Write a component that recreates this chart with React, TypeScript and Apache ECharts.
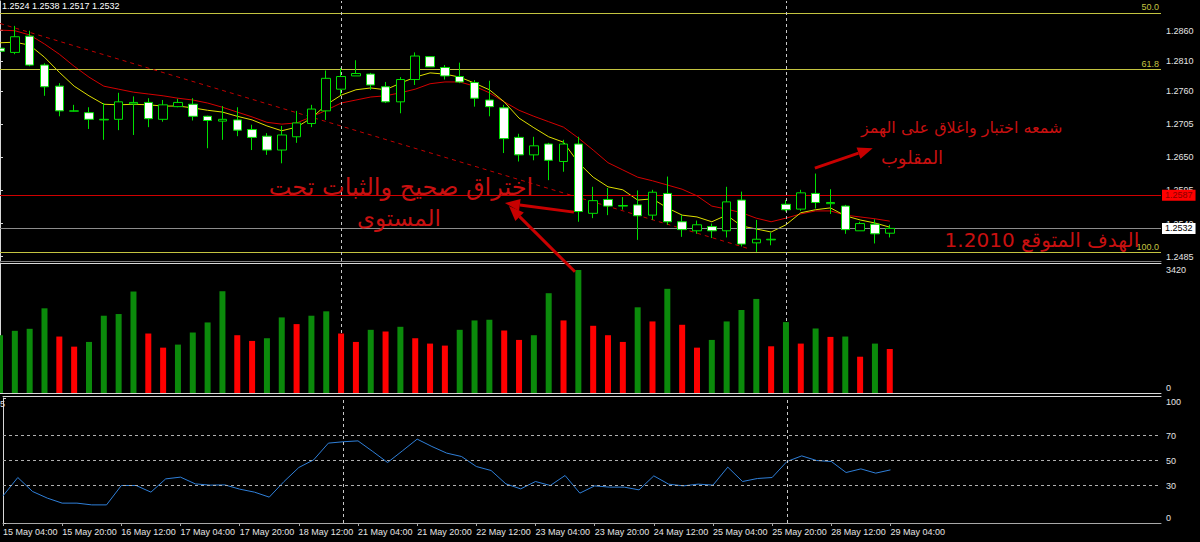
import React, { useEffect, useRef } from 'react';
import * as echarts from 'echarts';

// ---- Data ----
const timeLabels = [
  '15 May 04:00', '15 May 20:00', '16 May 12:00', '17 May 04:00', '17 May 20:00', '18 May 12:00',
  '21 May 04:00', '21 May 20:00', '22 May 12:00', '23 May 04:00', '23 May 20:00', '24 May 12:00',
  '25 May 04:00', '25 May 20:00', '28 May 12:00', '29 May 04:00',
];

const opens = [
  1.2831, 1.2824, 1.2851, 1.2803, 1.2768, 1.27265, 1.2724, 1.2712, 1.2713, 1.27385,
  1.2741, 1.2713, 1.2734, 1.2738, 1.2718, 1.2710, 1.2712, 1.2696, 1.2685, 1.2662,
  1.2684, 1.2706, 1.2727, 1.2763, 1.2785, 1.2788, 1.2767, 1.2742, 1.2779, 1.2817,
  1.2799, 1.2784, 1.2774, 1.2745, 1.2732, 1.2683, 1.2654, 1.2672, 1.2643, 1.2672,
  1.2557, 1.2580, 1.2569, 1.2571, 1.2554, 1.2590, 1.2543, 1.2528, 1.2535, 1.2528,
  1.2579, 1.2508, 1.2513, 1.2572, 1.2564, 1.2590, 1.2573, 1.2569, 1.2528, 1.2539,
  1.2524,
];
const highs = [
  1.2838, 1.2868, 1.2860, 1.2806, 1.2773, 1.2737, 1.2733, 1.2740, 1.2757, 1.2751,
  1.2748, 1.2745, 1.2747, 1.2748, 1.2719, 1.2735, 1.2733, 1.2704, 1.2690, 1.2702,
  1.2727, 1.2737, 1.2794, 1.2798, 1.2811, 1.2790, 1.2775, 1.2783, 1.2824, 1.2818,
  1.2803, 1.2807, 1.2778, 1.2777, 1.2737, 1.2689, 1.2684, 1.2674, 1.2679, 1.2684,
  1.2601, 1.2599, 1.2584, 1.2595, 1.2596, 1.2618, 1.2554, 1.2545, 1.2540, 1.2601,
  1.2593, 1.2546, 1.2525, 1.2579, 1.2596, 1.2623, 1.2597, 1.2571, 1.2543, 1.2547,
  1.2538,
];
const lows = [
  1.2818, 1.2821, 1.2801, 1.2752, 1.2718, 1.2726, 1.2697, 1.2679, 1.2695, 1.2687,
  1.2700, 1.2709, 1.2733, 1.2711, 1.2665, 1.2679, 1.2685, 1.2662, 1.2654, 1.2640,
  1.2674, 1.2700, 1.2712, 1.2753, 1.2785, 1.2762, 1.2740, 1.2723, 1.2770, 1.2800,
  1.2779, 1.2773, 1.2734, 1.2718, 1.2657, 1.2643, 1.2645, 1.2612, 1.2626, 1.2543,
  1.2549, 1.2554, 1.2563, 1.2513, 1.2546, 1.2538, 1.2518, 1.2523, 1.2516, 1.2517,
  1.2502, 1.2493, 1.2504, 1.2560, 1.2561, 1.2565, 1.2556, 1.2523, 1.2528, 1.2507,
  1.2517,
];
const closes = [
  1.2826, 1.2850, 1.2803, 1.2767, 1.2727, 1.2727, 1.2713, 1.2713, 1.2742, 1.2741,
  1.2714, 1.2737, 1.2741, 1.2718, 1.2711, 1.2713, 1.2695, 1.2683, 1.2662, 1.2687,
  1.2707, 1.2730, 1.2781, 1.2784, 1.2789, 1.2770, 1.2742, 1.2779, 1.2818, 1.2800,
  1.2785, 1.2775, 1.2748, 1.2734, 1.2681, 1.2654, 1.2669, 1.2645, 1.2672, 1.2560,
  1.2578, 1.2569, 1.2570, 1.2553, 1.2592, 1.2543, 1.2530, 1.2538, 1.2528, 1.2576,
  1.2506, 1.2514, 1.2514, 1.2563, 1.2591, 1.2575, 1.2575, 1.2530, 1.2540, 1.2523,
  1.2532,
];

const maFast = [
  1.2840, 1.2841, 1.2836, 1.2816, 1.2791, 1.2768, 1.2752, 1.2738, 1.2737, 1.2738,
  1.2737, 1.2735, 1.2735, 1.2732, 1.2728, 1.2725, 1.2718, 1.2712, 1.2702, 1.2694,
  1.2700, 1.2715, 1.2737, 1.2753, 1.2762, 1.2765, 1.2762, 1.2773, 1.2783, 1.2790,
  1.2788, 1.2783, 1.2773, 1.2762, 1.2742, 1.2715, 1.2699, 1.2684, 1.2675, 1.2641,
  1.2617, 1.2601, 1.2596, 1.2579, 1.2581, 1.2566, 1.2554, 1.2551, 1.2543, 1.2554,
  1.2536, 1.2531, 1.2526, 1.2538, 1.2558, 1.2563, 1.2566, 1.2553, 1.2546, 1.2541,
  1.2534,
];
const maSlow = [
  1.2861, 1.2860, 1.2853, 1.2838, 1.2821, 1.2801, 1.2783, 1.2768, 1.2763, 1.2758,
  1.2755, 1.2752, 1.2748, 1.2745, 1.2740, 1.2733, 1.2725, 1.2717, 1.2708, 1.2705,
  1.2707, 1.2717, 1.2728, 1.2740, 1.2745, 1.2750, 1.2752, 1.2757, 1.2763, 1.2772,
  1.2775, 1.2775, 1.2768, 1.2757, 1.2742, 1.2728, 1.2718, 1.2709, 1.2700, 1.2682,
  1.2662, 1.2641, 1.2629, 1.2617, 1.2611, 1.2604, 1.2597, 1.2586, 1.2569, 1.2564,
  1.2558, 1.2549, 1.2543, 1.2549, 1.2556, 1.2561, 1.2561, 1.2554, 1.2551, 1.2548,
  1.2544,
];

const volumes = [
  1607, 1729, 1785, 2355, 1570, 1289, 1420, 2149, 2196, 2822,
  1654, 1261, 1346, 1682, 1962, 2830, 1607, 1448, 1523, 2102,
  1916, 2149, 2271, 1654, 1420, 1757, 1710, 1841, 1523, 1374,
  1318, 1757, 2018, 2037, 1738, 1476, 1607, 2775, 2018, 3420,
  1869, 1607, 1420, 2383, 1990, 2897, 1897, 1261, 1476, 1990,
  2308, 2616, 1299, 1972, 1374, 1794, 1560, 1570, 1009, 1374,
  1224,
];

const rsiValues = [
  21.7, 36.4, 25.2, 19.9, 15.9, 15.9, 14.5, 14.5, 30.0, 30.0,
  24.7, 35.3, 36.7, 31.3, 30.3, 30.5, 27.1, 24.7, 20.7, 33.2,
  44.4, 50.5, 63.9, 65.0, 65.7, 57.2, 48.4, 57.7, 67.1, 61.2,
  55.9, 53.2, 45.2, 42.0, 31.3, 27.3, 33.2, 30.0, 38.0, 23.9,
  29.7, 28.7, 28.7, 26.5, 37.7, 31.1, 29.7, 31.1, 30.3, 44.7,
  33.2, 35.6, 36.4, 49.2, 53.7, 50.0, 49.2, 40.4, 43.3, 39.9,
  42.5,
];

const priceTicks = [1.286, 1.281, 1.276, 1.2705, 1.265, 1.2595, 1.254, 1.2485];
const volumeTicks = [0, 3420];
const rsiTicks = [0, 30, 50, 70, 100];
const rsiLevels = [30, 50, 70];
const fibLevels = [
  { name: '50.0', price: 1.28894 },
  { name: '61.8', price: 1.27953 },
  { name: '100.0', price: 1.24928 },
];
const resistancePrice = 1.2587;
const bidPrice = 1.2532;
const weekSeparators = [23, 53];
const trendLine = [
  [0, 1.2872],
  [50.4, 1.2499],
];

const arrows = [
  { from: [54.95, 1.2632], to: [58.85, 1.2665] },
  { from: [38.7, 1.2559], to: [34.05, 1.2574] },
  { from: [38.77, 1.246], to: [34.32, 1.2569] },
];
const notes = [
  { text: 'شمعه اختبار واغلاق على الهمز', at: [64.85, 1.2700] },
  { text: 'المقلوب', at: [61.5, 1.2650] },
  { text: 'اختراق صحيح والثبات تحت', at: [27.04, 1.2601] },
  { text: 'المستوى', at: [26.9, 1.2550] },
  { text: '1.2010 الهدف المتوقع', at: [70.26, 1.2513] },
];

// ---- Styling ----
const X_MAX = 78.29;
const GREEN_WICK = '#00e000';
const AXIS_TEXT = '#e4e4e4';
const FONT = 'Liberation Sans';
const NOTE_RED = '#c81010';
const FIB_COLOR = '#c4c440';
const noteFontSizes = [16, 18, 24, 23, 20];

export default function App() {
  const ref = useRef<HTMLDivElement>(null);

  useEffect(() => {
    document.body.style.margin = '0';
    document.body.style.background = '#000';
    const chart = echarts.init(ref.current!, undefined, { renderer: 'svg' });

    const candleData = opens.map((o, i) => [i, o, closes[i], lows[i], highs[i]]);
    const volData = volumes.map((v, i) => ({
      value: [i, v],
      itemStyle: { color: i === 0 || v > volumes[i - 1] ? '#0b8a0b' : '#ff0000' },
    }));

    const sepLines = weekSeparators.map((x) => ({ xAxis: x }));
    const sepStyle = { color: '#c8c8c8', type: [3, 3], width: 1 };

    const commonX = {
      type: 'value',
      min: 0,
      max: X_MAX,
      splitLine: { show: false },
      axisTick: { show: false },
      axisLabel: { show: false },
    };

    const last = opens.length - 1;
    const header = [opens[last], highs[last], lows[last], closes[last]].map((v) => v.toFixed(4)).join(' ');

    const option: any = {
      animation: false,
      backgroundColor: '#000',
      grid: [
        { left: 0, right: 39, top: 1, height: 260 },
        { left: 0, right: 39, top: 263, height: 130 },
        { left: 0, right: 39, top: 398, height: 125 },
      ],
      xAxis: [
        { ...commonX, gridIndex: 0, axisLine: { show: true, lineStyle: { color: '#808080' } } },
        { ...commonX, gridIndex: 1, axisLine: { show: true, lineStyle: { color: '#d8d8d8' } } },
        {
          ...commonX,
          gridIndex: 2,
          axisLine: { show: true, lineStyle: { color: '#a8a8a8' } },
          axisTick: { show: true, length: 3, customValues: timeLabels.map((_, i) => i * 4), lineStyle: { color: '#a8a8a8' } },
          axisLabel: {
            show: true,
            customValues: timeLabels.map((_, i) => i * 4),
            formatter: (v: number) => timeLabels[Math.round(v / 4)] ?? '',
            align: 'left',
            color: AXIS_TEXT,
            fontSize: 9,
            fontFamily: FONT,
            margin: 4,
          },
        },
        { ...commonX, gridIndex: 1, position: 'top', axisLine: { show: true, lineStyle: { color: '#d8d8d8' } } },
        { ...commonX, gridIndex: 2, position: 'top', offset: 2, axisLine: { show: true, lineStyle: { color: '#d8d8d8' } } },
      ],
      yAxis: [
        {
          type: 'value', gridIndex: 0, position: 'right', min: 1.24779, max: 1.29093,
          splitLine: { show: false },
          axisLine: { show: true, lineStyle: { color: '#d8d8d8' } },
          axisTick: { show: true, length: 3, customValues: priceTicks, lineStyle: { color: '#d8d8d8' } },
          axisLabel: { customValues: priceTicks, formatter: (v: number) => v.toFixed(4), color: AXIS_TEXT, fontSize: 9, fontFamily: FONT, margin: 5 },
        },
        {
          type: 'value', gridIndex: 1, position: 'right', min: 0, max: 3615,
          splitLine: { show: false },
          axisLine: { show: true, lineStyle: { color: '#d8d8d8' } },
          axisTick: { show: false },
          axisLabel: {
            customValues: volumeTicks,
            formatter: (v: number) => (v === 0 ? '{b|0}' : String(v)),
            rich: { b: { padding: [0, 0, 10, 0], color: AXIS_TEXT, fontSize: 9, fontFamily: FONT } },
            color: AXIS_TEXT, fontSize: 9, fontFamily: FONT, margin: 5,
          },
        },
        {
          type: 'value', gridIndex: 2, position: 'right', min: 0, max: 100,
          splitLine: { show: false },
          axisLine: { show: true, lineStyle: { color: '#d8d8d8' } },
          axisTick: { show: true, length: 3, customValues: rsiTicks, lineStyle: { color: '#d8d8d8' } },
          axisLabel: {
            customValues: rsiTicks,
            formatter: (v: number) => (v === 100 ? '{t|100}' : v === 0 ? '{b|0}' : String(v)),
            rich: {
              t: { padding: [8, 0, 0, 0], color: AXIS_TEXT, fontSize: 9, fontFamily: FONT },
              b: { padding: [0, 0, 10, 0], color: AXIS_TEXT, fontSize: 9, fontFamily: FONT },
            },
            color: AXIS_TEXT, fontSize: 9, fontFamily: FONT, margin: 5,
          },
        },
      ],
      series: [
        {
          type: 'candlestick',
          xAxisIndex: 0,
          yAxisIndex: 0,
          data: candleData,
          encode: { x: 0, y: [1, 2, 3, 4] },
          barWidth: 9,
          itemStyle: { color: '#000000', color0: '#ffffff', borderColor: GREEN_WICK, borderColor0: GREEN_WICK, borderWidth: 1 },
          z: 5,
          markLine: {
            silent: true,
            symbol: ['none', 'none'],
            precision: 6,
            animation: false,
            lineStyle: { type: 'solid', width: 1 },
            label: { show: false },
            data: [
              ...fibLevels.map((f) => ({
                yAxis: f.price,
                lineStyle: { color: FIB_COLOR, type: 'solid', width: 1 },
                label: { show: true, position: 'insideEndTop', formatter: f.name, color: FIB_COLOR, fontSize: 9, fontFamily: FONT, distance: [2, 1] },
              })),
              {
                yAxis: resistancePrice,
                lineStyle: { color: '#d00000', type: 'solid', width: 1 },
                label: { show: true, position: 'end', formatter: resistancePrice.toFixed(4), color: '#8a0000', backgroundColor: '#ff0000', padding: [1, 3], fontSize: 9, fontFamily: FONT, distance: 1 },
              },
              {
                yAxis: bidPrice,
                lineStyle: { color: '#8c8c8c', type: 'solid', width: 1 },
                label: { show: true, position: 'end', formatter: bidPrice.toFixed(4), color: '#000', backgroundColor: '#ffffff', padding: [1, 3], fontSize: 9, fontFamily: FONT, distance: 1 },
              },
              [
                { coord: trendLine[0], lineStyle: { color: '#c00000', type: [4, 4], width: 1 } },
                { coord: trendLine[1] },
              ],
              ...weekSeparators.map((x) => ({ xAxis: x, lineStyle: sepStyle })),
            ],
          },
        },
        {
          type: 'line', xAxisIndex: 0, yAxisIndex: 0, showSymbol: false, symbol: 'none', z: 4,
          data: maSlow.map((v, i) => [i, v]),
          lineStyle: { color: '#d40000', width: 1 },
        },
        {
          type: 'line', xAxisIndex: 0, yAxisIndex: 0, showSymbol: false, symbol: 'none', z: 4,
          data: maFast.map((v, i) => [i, v]),
          lineStyle: { color: '#dede00', width: 1 },
        },
        {
          type: 'bar', xAxisIndex: 1, yAxisIndex: 1, barWidth: 6,
          data: volData,
          markLine: {
            silent: true, symbol: ['none', 'none'], label: { show: false }, z: 1,
            data: sepLines, lineStyle: sepStyle,
          },
        },
        {
          type: 'line', xAxisIndex: 2, yAxisIndex: 2, showSymbol: false, symbol: 'none',
          data: rsiValues.map((v, i) => [i, v]),
          lineStyle: { color: '#2f7fd8', width: 1 },
          markLine: {
            silent: true, symbol: ['none', 'none'], label: { show: false },
            data: [
              ...rsiLevels.map((l) => ({ yAxis: l, lineStyle: { color: '#b0b0b0', type: [3, 3], width: 1 } })),
              ...sepLines.map((s) => ({ ...s, lineStyle: sepStyle })),
            ],
          },
        },
      ],
    };

    chart.setOption(option);

    const toPx = (pt: number[]) => chart.convertToPixel({ seriesIndex: 0 }, pt) as number[];
    const graphics: any[] = [];
    arrows.forEach((a) => {
      const p1 = toPx(a.from);
      const p2 = toPx(a.to);
      const dx = p2[0] - p1[0];
      const dy = p2[1] - p1[1];
      const len = Math.sqrt(dx * dx + dy * dy);
      const ux = dx / len;
      const uy = dy / len;
      const L = 15;
      const W = 6;
      const bx = p2[0] - ux * L;
      const by = p2[1] - uy * L;
      graphics.push({
        type: 'line', silent: true, z: 20,
        shape: { x1: p1[0], y1: p1[1], x2: bx, y2: by },
        style: { stroke: '#c80000', lineWidth: 3 },
      });
      graphics.push({
        type: 'polygon', silent: true, z: 20,
        shape: { points: [[p2[0], p2[1]], [bx - uy * W, by + ux * W], [bx + uy * W, by - ux * W]] },
        style: { fill: '#c80000' },
      });
    });
    notes.forEach((n, i) => {
      const p = toPx(n.at);
      graphics.push({
        type: 'text', silent: true, z: 21,
        x: p[0], y: p[1],
        style: {
          text: n.text, fill: NOTE_RED, fontSize: noteFontSizes[i], fontFamily: 'DejaVu Sans',
          align: 'center', verticalAlign: 'middle', textAlign: 'center', textVerticalAlign: 'middle',
        },
      });
    });
    graphics.push({
      type: 'text', silent: true, z: 21, left: 2, top: 1,
      style: { text: header, fill: '#ffffff', fontSize: 9, fontFamily: FONT },
    });
    graphics.push({
      type: 'text', silent: true, z: 21, left: 0, top: 399,
      style: { text: '5', fill: '#e0e0e0', fontSize: 9, fontFamily: FONT },
    });
    chart.setOption({ graphic: graphics });

    return () => chart.dispose();
  }, []);

  return (
    <div
      ref={ref}
      style={{ position: 'fixed', left: 0, top: 0, width: 1200, height: 542, background: '#000' }}
    />
  );
}
